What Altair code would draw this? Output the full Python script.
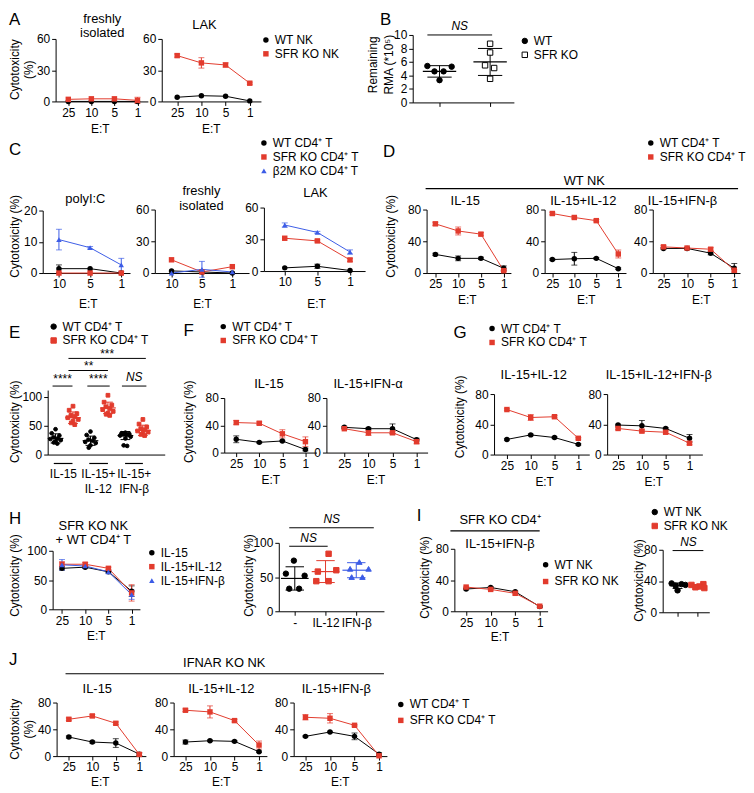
import altair as alt
import pandas as pd

# ======================= DATA =======================
ET4 = ["25", "10", "5", "1"]
ET3 = ["10", "5", "1"]

# A  (cytotoxicity %, mean and error)
A_FR_WT = [0, 0, 0, 0];            A_FR_WT_E = [0, 0, 0, 0]
A_FR_KO = [2, 2.5, 2.5, 1];        A_FR_KO_E = [0, 0, 0, 3]
A_LAK_WT = [4, 5.5, 5, 0.5];       A_LAK_WT_E = [0, 0, 0, 0]
A_LAK_KO = [44, 37, 35, 17.5];     A_LAK_KO_E = [1.5, 5, 2, 1]

# B  remaining RMA (*10^5)
B_WT = [5.4, 4.6, 3.3, 4.6, 5.3];  B_WT_JIT = [-0.24, -0.1, 0, 0.08, 0.24]
B_KO = [8.7, 7.4, 5.5, 5.1, 3.5];  B_KO_JIT = [0, 0, -0.1, 0.08, 0]
B_MEAN = [4.6, 6.0];               B_SD = [0.85, 2.0]

# C
C_PI_WT = [1.4, 1.4, 0];     C_PI_WT_E = [1.2, 0, 0]
C_PI_KO = [0, 0, 0];         C_PI_KO_E = [0, 0, 0]
C_PI_B2 = [10.7, 8.1, 2.6];  C_PI_B2_E = [3.3, 0.4, 2.1]
C_FR_WT = [2, 1, 0];         C_FR_WT_E = [0, 0, 0]
C_FR_KO = [12.5, 1, 6];      C_FR_KO_E = [0, 0, 0]
C_FR_B2 = [0, 3.5, 1];       C_FR_B2_E = [0, 7.5, 0]
C_LAK_WT = [3, 4.5, 0.5];    C_LAK_WT_E = [0, 2, 0]
C_LAK_KO = [31, 28.5, 10.5]; C_LAK_KO_E = [0, 1, 1.5]
C_LAK_B2 = [43.5, 36.5, 18]; C_LAK_B2_E = [2, 1, 2]

# D  (WT NK)
D15_WT = [23.5, 18.5, 18.5, 6];  D15_WT_E = [1.5, 3, 1.5, 3]
D15_KO = [62, 53, 49, 3];        D15_KO_E = [2, 5, 2, 1]
D12_WT = [17, 18, 18.5, 5.5];    D12_WT_E = [1, 8, 1, 1]
D12_KO = [75, 70, 66, 24];       D12_KO_E = [1.5, 1.5, 1.5, 5]
DB_WT = [31, 31, 25, 6];         DB_WT_E = [1, 1, 2, 6]
DB_KO = [33, 31.5, 30, 3.5];     DB_KO_E = [1.5, 1, 2, 1]

# E  (individual values)
E_WT_IL15 = [44, 37, 33, 30, 28, 27, 25, 23, 21, 19]
E_KO_IL15 = [84, 77, 71, 68, 66, 64, 61, 58, 55, 52]
E_WT_IL12 = [40, 34, 29, 26, 24, 22, 20, 16, 12]
E_KO_IL12 = [103, 91, 86, 83, 80, 78, 75, 72, 70, 68]
E_WT_IFNB = [38, 37, 36, 35, 34, 33, 31, 28, 16, 15]
E_KO_IFNB = [61, 53, 48, 45, 43, 41, 39, 37, 35, 33]
E_JIT = [0, -0.22, 0.22, -0.12, 0.12, -0.3, 0.3, 0, -0.1, 0.1]
E_MEAN = [28, 64, 24, 81, 33, 42]
E_SD = [8, 10, 8, 10, 7, 9]
E_GROUPS = ["IL-15", "IL-15+\nIL-12", "IL-15+\nIFN-β"]

# F
F15_WT = [19.5, 15, 17, 4.5];  F15_WT_E = [5, 1, 1, 2]
F15_KO = [44, 43, 27.5, 16];   F15_KO_E = [3, 2, 6, 7]
FA_WT = [37, 35, 35, 19];      FA_WT_E = [1.5, 1.5, 7, 2]
FA_KO = [35, 29, 29, 16];      FA_KO_E = [1, 4, 2, 3]

# G
G12_WT = [20, 26, 22.5, 13.5];  G12_WT_E = [1, 1, 1, 1]
G12_KO = [59.5, 49, 50, 21.5];  G12_KO_E = [1, 4, 1.5, 1]
GB_WT = [39, 38, 34.5, 21.5];   GB_WT_E = [1, 7, 1, 5]
GB_KO = [34.5, 31, 29.5, 15];   GB_KO_E = [1.5, 2, 2, 2]

# H
H_IL15 = [70, 72, 64, 31];  H_IL15_E = [3, 2, 2, 9]
H_IL12 = [77, 77, 70, 28];  H_IL12_E = [4, 3, 2, 14]
H_IFNB = [76, 74, 64, 25];  H_IFNB_E = [9, 3, 2, 8]
H2_CATS = ["-", "IL-12", "IFN-β"]
H2_NONE = [74, 55, 52, 33, 33];  H2_NONE_JIT = [-0.03, -0.29, 0.32, -0.18, 0.14]
H2_IL12 = [84, 60, 58, 44, 44];  H2_IL12_JIT = [0.1, 0.35, -0.25, -0.3, 0.1]
H2_IFNB = [72, 62, 62, 50, 50];  H2_IFNB_JIT = [0.1, -0.2, 0.4, -0.15, 0.2]
H2_MEAN = [48, 58, 60];          H2_SD = [17, 16, 11]

# I
I_WT = [28.5, 30.5, 25, 6];  I_WT_E = [1, 1, 1, 1]
I_KO = [31, 28, 23, 6.5];    I_KO_E = [1, 1, 2, 1]
I2_WT = [37, 36, 35, 34, 28];  I2_WT_JIT = [-0.3, 0.2, 0.4, -0.1, 0]
I2_KO = [36, 35, 33, 32, 31];  I2_KO_JIT = [0.3, -0.3, 0.1, -0.1, 0.35]
I2_MEAN = [34, 33.5];          I2_SD = [3.5, 2]

# J  (IFNAR KO NK)
J15_WT = [28.5, 21, 19.5, 3];   J15_WT_E = [1.5, 1.5, 6.5, 2]
J15_KO = [55, 60, 49, 2.5];     J15_KO_E = [2, 2, 2, 2]
J12_WT = [21, 23, 22, 6.5];     J12_WT_E = [3, 1, 1, 1]
J12_KO = [68.5, 66, 53, 16.5];  J12_KO_E = [2, 9, 2, 6]
JB_WT = [29.5, 36, 29.5, 3];    JB_WT_E = [1, 1, 5, 2]
JB_KO = [58, 56.5, 46, 0.5];    JB_KO_E = [4, 7, 1, 1]

# ======================= STYLE / LAYOUT =======================
OFF = 8
CW, CH = 738, 777
FONT = "Liberation Sans"
RED = "#e23b2d"
BLK = "#000000"
BLUE = "#3c5ce6"
ONE = alt.Data(values=[{"k": 1}])

WT_T = "WT CD4⁺ T"
KO_T = "SFR KO CD4⁺ T"


def P(v):
    return v - OFF


AXS = dict(domainColor=BLK, tickColor=BLK, labelColor=BLK, labelFont=FONT,
           grid=False, title=None, tickSize=4, domainWidth=1,
           tickWidth=1, labelPadding=2, labelFlush=False, labelOverlap=False)


def LEG(cx, cy, gap=2, size=12):
    return alt.Legend(orient="none", legendX=P(cx - 4), legendY=P(cy - 7), title=None,
                      labelFont=FONT, labelFontSize=size, labelColor=BLK, symbolSize=30,
                      rowPadding=gap, labelOffset=3, padding=0, symbolStrokeWidth=1)


def line_panel(cats, series, xl, xr, yb, yt, ymax, yticks, pad=0.5, align=0.55, leg=None):
    rows = []
    for name, vals, errs, col, shp in series:
        for i, (c, v, e) in enumerate(zip(cats, vals, errs)):
            rows.append({"i": i, "et": c, "v": v, "lo": v - e, "hi": v + e, "e": e, "s": name})
    df = pd.DataFrame(rows)
    xs = alt.Scale(type="point", domain=cats, range=[P(xl), P(xr)], padding=pad, align=align)
    ys = alt.Scale(type="linear", domain=[0, ymax], range=[P(yb), P(yt)], nice=False, zero=False)
    X = alt.X("et:N", scale=xs, sort=cats,
              axis=alt.Axis(orient="bottom", offset=P(yb) - CH, labelAngle=0, labelFontSize=12, **AXS))
    yax = alt.Axis(orient="left", offset=-P(xl), values=yticks, labelFontSize=12, **AXS)
    base = alt.Chart(df)
    layers = []
    for name, vals, errs, col, shp in series:
        sub = base.transform_filter(alt.datum.s == name)
        layers.append(sub.mark_line(color=col, strokeWidth=1).encode(
            X, alt.Y("v:Q", scale=ys, axis=yax), order="i:Q"))
        eb = sub.transform_filter(alt.datum.e > 0)
        layers.append(eb.mark_rule(color=col, strokeWidth=1).encode(
            X, alt.Y("lo:Q", scale=ys, axis=yax), y2="hi:Q"))
        for f in ("hi", "lo"):
            layers.append(eb.mark_tick(color=col, orient="horizontal", size=6, thickness=1).encode(
                X, alt.Y(f + ":Q", scale=ys, axis=yax)))
    names = [s[0] for s in series]
    layers.append(base.mark_point(filled=True, size=30, opacity=1).encode(
        X, alt.Y("v:Q", scale=ys, axis=yax),
        color=alt.Color("s:N", scale=alt.Scale(domain=names, range=[s[3] for s in series]), legend=leg),
        shape=alt.Shape("s:N", scale=alt.Scale(domain=names, range=[s[4] for s in series]), legend=leg)))
    return alt.layer(*layers)


def dot_panel(groups, xl, xr, yb, yt, ydom, yticks, xdom, xvals, xlabels=None, mw=0.3, cw=0.2,
              leg=None, ticks=True, sig_lines=(), sig_texts=(), under=(), cat_texts=(), size=30, xfs=12):
    # groups: (series, pos, vals, jit, mean, sd, color, fill, shape)
    pts = pd.DataFrame([{"x": g[1] + j, "v": v, "s": g[0]} for g in groups for v, j in zip(g[2], g[3])])
    st = pd.DataFrame([{"pos": g[1], "m": g[4], "lo": g[4] - g[5], "hi": g[4] + g[5], "col": g[6]}
                       for g in groups])
    xs = alt.Scale(type="linear", domain=xdom, range=[P(xl), P(xr)], nice=False, zero=False)
    ys = alt.Scale(type="linear", domain=ydom, range=[P(yb), P(yt)], nice=False, zero=False)
    xkw = dict(orient="bottom", offset=P(yb) - CH, values=xvals, ticks=ticks, labelAngle=0, labelFontSize=xfs)
    if xlabels:
        expr = "'" + xlabels[-1] + "'"
        for v, lab in reversed(list(zip(xvals[:-1], xlabels[:-1]))):
            expr = "datum.value == %s ? '%s' : %s" % (v, lab, expr)
        xkw["labelExpr"] = expr
    else:
        xkw["labels"] = False
    xax = alt.Axis(**xkw, **AXS)
    yax = alt.Axis(orient="left", offset=-P(xl), values=yticks, labelFontSize=12, **AXS)

    def X(f):
        return alt.X(f, type="quantitative", scale=xs, axis=xax)

    def Y(f):
        return alt.Y(f, type="quantitative", scale=ys, axis=yax)

    sb = alt.Chart(st)
    colid = alt.Color("col:N", scale=None)
    layers = [
        sb.transform_calculate(xa="datum.pos - %f" % mw, xb="datum.pos + %f" % mw)
          .mark_rule(strokeWidth=1.2).encode(X("xa"), Y("m"), x2="xb:Q", color=colid),
        sb.mark_rule(strokeWidth=1).encode(X("pos"), Y("lo"), y2="hi:Q", color=colid),
    ]
    for f in ("lo", "hi"):
        layers.append(sb.transform_calculate(xa="datum.pos - %f" % cw, xb="datum.pos + %f" % cw)
                      .mark_rule(strokeWidth=1).encode(X("xa"), Y(f), x2="xb:Q", color=colid))
    names, cols, fills, shapes = [], [], [], []
    for g in groups:
        if g[0] not in names:
            names.append(g[0]); cols.append(g[6]); fills.append(g[7]); shapes.append(g[8])
    layers.append(alt.Chart(pts).mark_point(size=size, opacity=1, fillOpacity=1, strokeWidth=1).encode(
        X("x"), Y("v"),
        color=alt.Color("s:N", scale=alt.Scale(domain=names, range=cols), legend=leg),
        fill=alt.Fill("s:N", scale=alt.Scale(domain=names, range=fills), legend=leg),
        shape=alt.Shape("s:N", scale=alt.Scale(domain=names, range=shapes), legend=leg)))
    if sig_lines:
        sl = pd.DataFrame([{"a": a, "b": b, "y": y} for a, b, y in sig_lines])
        layers.append(alt.Chart(sl).mark_rule(color=BLK, strokeWidth=1).encode(X("a"), Y("y"), x2="b:Q"))
    for x, y, t, italic in sig_texts:
        layers.append(alt.Chart(pd.DataFrame([{"x": x, "y": y}])).mark_text(
            text=t, font=FONT, fontSize=12, fontStyle="italic" if italic else "normal",
            color=BLK, baseline="middle").encode(X("x"), Y("y")))
    for a, b, ypx in under:
        layers.append(alt.Chart(pd.DataFrame([{"a": a, "b": b}])).mark_rule(color=BLK, strokeWidth=1.2)
                      .encode(X("a"), x2="b:Q", y=alt.value(P(ypx))))
    for x, ypx, t in cat_texts:
        layers.append(alt.Chart(pd.DataFrame([{"x": x}])).mark_text(
            text=t, font=FONT, fontSize=12, color=BLK, baseline="top", lineBreak="\n", lineHeight=15)
            .encode(X("x"), y=alt.value(P(ypx))))
    return alt.layer(*layers)


def txt(s, x, y, size=12, align="center", rot=False):
    return alt.Chart(ONE).mark_text(text=s, font=FONT, fontSize=size, align=align, baseline="middle",
                                    angle=270 if rot else 0, color=BLK).encode(
        x=alt.value(P(x)), y=alt.value(P(y)))


def hline(x1, x2, y):
    return alt.Chart(ONE).mark_rule(color=BLK, strokeWidth=1.2).encode(
        x=alt.value(P(x1)), x2=alt.value(P(x2)), y=alt.value(P(y)))


panels = []

# ---------------- A ----------------
A_S = lambda wt, wte, ko, koe: [("WT NK", wt, wte, BLK, "circle"), ("SFR KO NK", ko, koe, RED, "square")]
panels.append(line_panel(ET4, A_S(A_FR_WT, A_FR_WT_E, A_FR_KO, A_FR_KO_E), 55, 148, 92, 29, 60, [0, 30, 60], 0.5, 0.55))
panels.append(line_panel(ET4, A_S(A_LAK_WT, A_LAK_WT_E, A_LAK_KO, A_LAK_KO_E), 162, 262, 92, 29, 60, [0, 30, 60], 0.55, 0.58,
                         leg=LEG(265, 31)))

# ---------------- B ----------------
panels.append(dot_panel(
    [("WT", 1, B_WT, B_WT_JIT, B_MEAN[0], B_SD[0], BLK, BLK, "circle"),
     ("SFR KO", 2, B_KO, B_KO_JIT, B_MEAN[1], B_SD[1], BLK, "white", "square")],
    415, 517, 93, 25, [0, 10], [0, 2, 4, 6, 8, 10], [0.47, 2.47], [1, 2], mw=0.33, cw=0.24,
    leg=LEG(526, 32), sig_lines=[(0.76, 2.04, 10.0)], sig_texts=[(1.4, 11.3, "NS", True)]))

# ---------------- C ----------------
C_S = lambda a, ae, b, be, c, ce: [(WT_T, a, ae, BLK, "circle"), (KO_T, b, be, RED, "square"),
                                   ("β2M KO CD4⁺ T", c, ce, BLUE, "triangle-up")]
panels.append(line_panel(ET3, C_S(C_PI_WT, C_PI_WT_E, C_PI_KO, C_PI_KO_E, C_PI_B2, C_PI_B2_E), 42, 130, 265, 202, 20, [0, 10, 20], 0.4, 0.65))
panels.append(line_panel(ET3, C_S(C_FR_WT, C_FR_WT_E, C_FR_KO, C_FR_KO_E, C_FR_B2, C_FR_B2_E), 155, 250, 265, 201, 60, [0, 30, 60], 0.55, 0.5))
panels.append(line_panel(ET3, C_S(C_LAK_WT, C_LAK_WT_E, C_LAK_KO, C_LAK_KO_E, C_LAK_B2, C_LAK_B2_E), 265, 367, 263, 199, 60, [0, 30, 60], 0.55, 0.58,
                         leg=LEG(263, 135, gap=2)))

# ---------------- D ----------------
T_S = lambda wt, wte, ko, koe: [(WT_T, wt, wte, BLK, "circle"), (KO_T, ko, koe, RED, "square")]
panels.append(line_panel(ET4, T_S(D15_WT, D15_WT_E, D15_KO, D15_KO_E), 429, 514, 265, 201, 80, [0, 40, 80], 0.35, 0.55))
panels.append(line_panel(ET4, T_S(D12_WT, D12_WT_E, D12_KO, D12_KO_E), 548, 630, 265, 201, 80, [0, 40, 80], 0.35, 0.5))
panels.append(line_panel(ET4, T_S(DB_WT, DB_WT_E, DB_KO, DB_KO_E), 657, 745, 265, 201, 80, [0, 40, 80], 0.35, 0.65,
                         leg=LEG(653, 135)))

# ---------------- E ----------------
panels.append(dot_panel(
    [(WT_T, 0, E_WT_IL15, E_JIT, E_MEAN[0], E_SD[0], BLK, BLK, "circle"),
     (KO_T, 1, E_KO_IL15, E_JIT, E_MEAN[1], E_SD[1], RED, RED, "square"),
     (WT_T, 2, E_WT_IL12, E_JIT, E_MEAN[2], E_SD[2], BLK, BLK, "circle"),
     (KO_T, 3, E_KO_IL12, E_JIT, E_MEAN[3], E_SD[3], RED, RED, "square"),
     (WT_T, 4, E_WT_IFNB, E_JIT, E_MEAN[4], E_SD[4], BLK, BLK, "circle"),
     (KO_T, 5, E_KO_IFNB, E_JIT, E_MEAN[5], E_SD[5], RED, RED, "square")],
    47, 165, 448, 383, [0, 112], [0, 50, 100], [-0.45, 6.25], [0.5], mw=0.45, cw=0.28,
    leg=LEG(51, 320), ticks=False, size=14,
    sig_lines=[(-0.17, 0.97, 119), (1.82, 3.1, 119), (3.8, 5.2, 119), (0.74, 3.0, 146), (0.74, 5.17, 167)],
    sig_texts=[(0.4, 131, "****", False), (2.45, 131, "****", False), (4.5, 134, "NS", True),
               (1.9, 153, "**", False), (2.95, 174, "***", False)],
    under=[(-0.1, 0.97, 457), (1.93, 3.0, 457), (3.98, 5.0, 457)],
    cat_texts=[(0.45, 463, E_GROUPS[0]), (2.45, 463, E_GROUPS[1]), (4.5, 463, E_GROUPS[2])]))

# ---------------- F ----------------
panels.append(line_panel(ET4, T_S(F15_WT, F15_WT_E, F15_KO, F15_KO_E), 225, 318, 446, 391, 80, [0, 40, 80], 0.5, 0.52,
                         leg=LEG(222, 320)))
panels.append(line_panel(ET4, T_S(FA_WT, FA_WT_E, FA_KO, FA_KO_E), 328, 430, 446, 391, 80, [0, 40, 80], 0.6, 0.62))

# ---------------- G ----------------
panels.append(line_panel(ET4, T_S(G12_WT, G12_WT_E, G12_KO, G12_KO_E), 497, 593, 448, 387, 80, [0, 40, 80], 0.5, 0.54,
                         leg=LEG(493, 322)))
panels.append(line_panel(ET4, T_S(GB_WT, GB_WT_E, GB_KO, GB_KO_E), 611, 707, 448, 387, 80, [0, 40, 80], 0.5, 0.46))

# ---------------- H ----------------
panels.append(line_panel(ET4, [("IL-15", H_IL15, H_IL15_E, BLK, "circle"),
                               ("IL-15+IL-12", H_IL12, H_IL12_E, RED, "square"),
                               ("IL-15+IFN-β", H_IFNB, H_IFNB_E, BLUE, "triangle-up")],
                         52, 140, 604, 545, 100, [0, 50, 100], 0.38, 0.53, leg=LEG(150, 548, gap=2)))
panels.append(dot_panel(
    [("-", 1, H2_NONE, H2_NONE_JIT, H2_MEAN[0], H2_SD[0], BLK, BLK, "circle"),
     ("IL-12", 2, H2_IL12, H2_IL12_JIT, H2_MEAN[1], H2_SD[1], RED, RED, "square"),
     ("IFN-β", 3, H2_IFNB, H2_IFNB_JIT, H2_MEAN[2], H2_SD[2], BLUE, BLUE, "triangle-up")],
    280, 386, 606, 537, [0, 100], [0, 50, 100], [0.48, 3.9], [1, 2, 3], xlabels=H2_CATS, mw=0.45, cw=0.3,
    xfs=12,
    sig_lines=[(0.82, 3.57, 122), (0.82, 2.07, 95)],
    sig_texts=[(2.2, 135, "NS", True), (1.45, 107, "NS", True)]))

# ---------------- I ----------------
panels.append(line_panel(ET4, [("WT NK", I_WT, I_WT_E, BLK, "circle"), ("SFR KO NK", I_KO, I_KO_E, RED, "square")],
                         457, 551, 606, 543, 80, [0, 40, 80], 0.4, 0.6, leg=LEG(547, 560, gap=5)))
panels.append(dot_panel(
    [("WT NK", 1, I2_WT, I2_WT_JIT, I2_MEAN[0], I2_SD[0], BLK, BLK, "circle"),
     ("SFR KO NK", 2, I2_KO, I2_KO_JIT, I2_MEAN[1], I2_SD[1], RED, RED, "square")],
    667, 714, 607, 544, [0, 80], [0, 40, 80], [0.25, 2.6], [1, 2], mw=0.4, cw=0.25,
    leg=LEG(657, 507), sig_lines=[(0.75, 2.3, 79)], sig_texts=[(1.55, 90, "NS", True)]))

# ---------------- J ----------------
JB, JT = 752, 698
panels.append(line_panel(ET4, T_S(J15_WT, J15_WT_E, J15_KO, J15_KO_E), 56, 146, JB, JT, 80, [0, 40, 80], 0.4, 0.65))
panels.append(line_panel(ET4, T_S(J12_WT, J12_WT_E, J12_KO, J12_KO_E), 174, 268, JB, JT, 80, [0, 40, 80], 0.4, 0.6))
panels.append(line_panel(ET4, T_S(JB_WT, JB_WT_E, JB_KO, JB_KO_E), 295, 389, JB, JT, 80, [0, 40, 80], 0.4, 0.6,
                         leg=LEG(401, 701, gap=4)))

# ---------------- free texts ----------------
texts = [
    txt("A", 8, 10, 17, "left"), txt("freshly", 102, 9, 13), txt("isolated", 102, 23, 13), txt("LAK", 205, 15, 13),
    txt("Cytotoxicity", 14, 60, 12, rot=True), txt("(%)", 28, 60, 12, rot=True),
    txt("E:T", 100, 120), txt("E:T", 212, 120),
    txt("B", 382, 10, 17, "left"), txt("Remaining", 375, 55, 12, rot=True), txt("RMA (*10⁵)", 391, 55, 12, rot=True),
    txt("C", 8, 141, 17, "left"), txt("polyI:C", 85, 190, 13), txt("freshly", 202, 182, 13), txt("isolated", 202, 197, 13),
    txt("LAK", 317, 184, 13), txt("Cytotoxicity (%)", 14, 228, 12, rot=True),
    txt("E:T", 88, 296), txt("E:T", 203, 296), txt("E:T", 318, 296),
    txt("D", 385, 143, 17, "left"), txt("WT NK", 588, 172, 13), hline(428, 743, 180),
    txt("IL-15", 468, 192, 13), txt("IL-15+IL-12", 587, 192, 13), txt("IL-15+IFN-β", 687, 192, 13),
    txt("Cytotoxicity (%)", 393, 228, 12, rot=True),
    txt("E:T", 470, 292), txt("E:T", 590, 292), txt("E:T", 706, 292),
    txt("E", 8, 325, 17, "left"), txt("Cytotoxicity (%)", 14, 415, 12, rot=True),
    txt("F", 184, 323, 17, "left"), txt("IL-15", 270, 377, 13), txt("IL-15+IFN-α", 370, 377, 13),
    txt("Cytotoxicity (%)", 190, 415, 12, rot=True), txt("E:T", 272, 474), txt("E:T", 378, 474),
    txt("G", 456, 325, 17, "left"), txt("IL-15+IL-12", 537, 368, 13), txt("IL-15+IL-12+IFN-β", 663, 368, 13),
    txt("Cytotoxicity (%)", 463, 410, 12, rot=True), txt("E:T", 548, 476), txt("E:T", 658, 476),
    txt("H", 8, 513, 17, "left"), txt("SFR KO NK", 93, 520, 13), txt("+ WT CD4⁺ T", 93, 534, 13),
    txt("Cytotoxicity (%)", 14, 570, 12, rot=True), txt("E:T", 96, 631),
    txt("Cytotoxicity (%)", 250, 570, 12, rot=True),
    txt("I", 419, 510, 17, "left"), txt("SFR KO CD4⁺", 503, 514, 13), hline(453, 543, 525),
    txt("IL-15+IFN-β", 503, 538, 13), txt("Cytotoxicity (%)", 427, 572, 12, rot=True), txt("E:T", 503, 632),
    txt("Cytotoxicity (%)", 643, 575, 12, rot=True),
    txt("J", 8, 655, 17, "left"), txt("IFNAR KO NK", 225, 658, 13), hline(65, 386, 669),
    txt("IL-15", 97, 684, 13), txt("IL-15+IL-12", 222, 684, 13), txt("IL-15+IFN-β", 338, 684, 13),
    txt("Cytotoxicity", 14, 725, 12, rot=True), txt("(%)", 28, 725, 12, rot=True),
    txt("E:T", 100, 778), txt("E:T", 222, 778), txt("E:T", 342, 778),
]

chart = (
    alt.layer(*panels, *texts)
    .resolve_scale(x="independent", y="independent", color="independent", shape="independent", fill="independent")
    .resolve_axis(x="independent", y="independent")
    .resolve_legend(color="independent", shape="independent", fill="independent")
    .properties(width=CW, height=CH, padding=0, background="white")
    .configure_view(stroke=None)
)

chart.save("out.html", embed_options={"renderer": "svg", "actions": False})
